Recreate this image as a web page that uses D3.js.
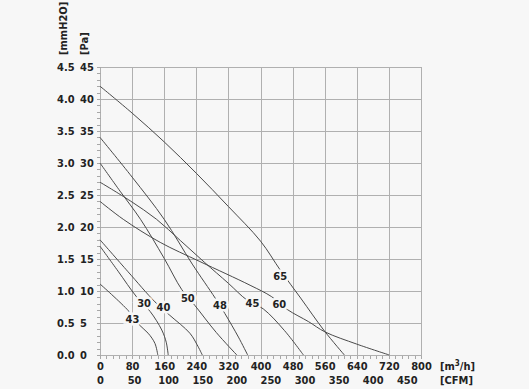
<!DOCTYPE html>
<meta charset="utf-8">
<style>
body { margin: 0; background: #f7f7f7; }
svg { display: block; }
text { font-family: "DejaVu Sans Condensed", "DejaVu Sans", sans-serif; font-size: 11px; font-weight: bold; fill: #222; }
.grid line { stroke: #b0b0b0; stroke-width: 1; shape-rendering: crispEdges; }
.tick line { stroke: #a8a8a8; shape-rendering: crispEdges; }
.curve { fill: none; stroke: #4a4a4a; stroke-width: 1; }
.lbl { paint-order: stroke; stroke: #f7f7f7; stroke-width: 5px; }
</style>
<body>
<script src="https://cdn.jsdelivr.net/npm/d3@7"></script>
<script>

// axis values
var flowTicks = [0, 80, 160, 240, 320, 400, 480, 560, 640, 720, 800];   // m3/h
var cfmTicks = [0, 50, 100, 150, 200, 250, 300, 350, 400, 450];
var paTicks = [0, 5, 10, 15, 20, 25, 30, 35, 40, 45];
var mmTicks = ["0.0", "0.5", "1.0", "1.5", "2.0", "2.5", "3.0", "3.5", "4.0", "4.5"];

// fan curves: [m3/h, Pa]
var c65 = [[0, 42], [80, 37.8], [160, 33.3], [240, 28.4], [320, 23.2], [400, 17.8], [450, 13.2], [500, 8.9], [560, 3.7], [609, 0]];
var c60 = [[0, 24], [58, 21.2], [150, 17.6], [249, 14.6], [374, 10.9], [428, 9.1], [467, 7.1], [520, 5.2], [561, 3.6], [640, 1.7], [721, 0]];
var c45 = [[0, 27], [75, 24.1], [141, 21.2], [200, 17.9], [260, 14.5], [320, 11.2], [366, 8.6], [407, 7.2], [460, 3.8], [507, 0]];
var c48 = [[0, 34], [80, 27.8], [160, 21.2], [230, 14.2], [287, 8.9], [311, 6.5], [345, 2.8], [368, 0]];
var c50 = [[0, 30], [50, 25.6], [101, 21.2], [160, 15.1], [204, 10.2], [237, 7.7], [290, 3.5], [341, 0]];
var c40 = [[0, 18], [70, 13.0], [137, 8.3], [174, 6.2], [224, 3.4], [242, 1.6], [255, 0]];
var c30 = [[0, 17], [45, 13.1], [91, 9.1], [125, 6.8], [154, 3.9], [165, 2.0], [170, 0]];
var c43 = [[0, 11.1], [71, 6.9], [98, 4.7], [120, 3.4], [137, 1.8], [144, 0]];

var curves = [c65, c60, c45, c48, c50, c40, c30, c43];
// curve labels: [text, m3/h, Pa]
var curveLabels = [["65", 449, 12.3], ["60", 447, 7.9], ["45", 380, 8.1], ["48", 299, 7.8],
                   ["50", 219, 8.9], ["40", 158, 7.5], ["30", 110, 8.1], ["43", 81, 5.6]];

var width = 529, height = 389;

var x = d3.scaleLinear().domain([0, 800]).range([100, 421]);
var xCfm = d3.scaleLinear().domain([0, 800 / 1.699]).range([100, 421]);
var y = d3.scaleLinear().domain([0, 45]).range([355, 67]);

var svg = d3.select("body").append("svg")
    .attr("width", width)
    .attr("height", height);

svg.append("rect").attr("width", width).attr("height", height).attr("fill", "#f7f7f7");

// grid
var grid = svg.append("g").attr("class", "grid");
grid.selectAll(".vx").data(flowTicks).enter().append("line")
    .attr("x1", d => Math.round(x(d)) + 0.5).attr("x2", d => Math.round(x(d)) + 0.5)
    .attr("y1", y(45)).attr("y2", y(0) + 3);
grid.selectAll(".hy").data(paTicks).enter().append("line")
    .attr("x1", x(0) - 3).attr("x2", x(800))
    .attr("y1", d => Math.round(y(d)) + 0.5).attr("y2", d => Math.round(y(d)) + 0.5);

// minor ticks
svg.append("g")
    .attr("transform", "translate(0," + (y(0) + 0.5) + ")")
    .call(d3.axisBottom(x).tickValues(d3.range(0, 801, 16)).tickSize(3).tickFormat(""))
    .call(g => g.select(".domain").remove());
svg.append("g")
    .attr("transform", "translate(" + (x(0) + 0.5) + ",0)")
    .call(d3.axisLeft(y).tickValues(d3.range(0, 46, 1)).tickSize(4).tickFormat(""))
    .call(g => g.select(".domain").remove());

// x labels
svg.append("g")
    .attr("transform", "translate(0," + y(0) + ")")
    .call(d3.axisBottom(x).tickValues(flowTicks).tickSize(0).tickPadding(7))
    .call(g => g.select(".domain").remove())
    .selectAll("text").attr("fill", null);
svg.append("g")
    .attr("transform", "translate(0," + y(0) + ")")
    .call(d3.axisBottom(xCfm).tickValues(cfmTicks).tickSize(0).tickPadding(21))
    .call(g => g.select(".domain").remove())
    .selectAll("text").attr("fill", null);

// y labels
svg.selectAll(".pa").data(paTicks).enter().append("text")
    .attr("x", 80).attr("y", d => y(d)).attr("dy", "0.36em")
    .text(d => d);
svg.selectAll(".mm").data(mmTicks).enter().append("text")
    .attr("x", 57).attr("y", (d, i) => y(paTicks[i])).attr("dy", "0.36em")
    .text(d => d);

// unit labels
svg.append("text").attr("transform", "translate(67,55) rotate(-90)").text("[mmH2O]");
svg.append("text").attr("transform", "translate(88,55) rotate(-90)").text("[Pa]");
var u = svg.append("text").attr("x", 440).attr("y", 370);
u.append("tspan").text("[m");
u.append("tspan").attr("dy", -4).style("font-size", "8px").text("3");
u.append("tspan").attr("dy", 4).text("/h]");
svg.append("text").attr("x", 440).attr("y", 384).text("[CFM]");

// curves
var line = d3.line()
    .x(d => x(d[0]))
    .y(d => y(d[1]))
    .curve(d3.curveCatmullRom.alpha(0.5));

svg.selectAll(".curve").data(curves).enter().append("path")
    .attr("class", "curve")
    .attr("d", line);

svg.selectAll(".lbl").data(curveLabels).enter().append("text")
    .attr("class", "lbl")
    .attr("x", d => x(d[1])).attr("y", d => y(d[2])).attr("dy", "0.36em")
    .attr("text-anchor", "middle")
    .text(d => d[0]);

</script>
